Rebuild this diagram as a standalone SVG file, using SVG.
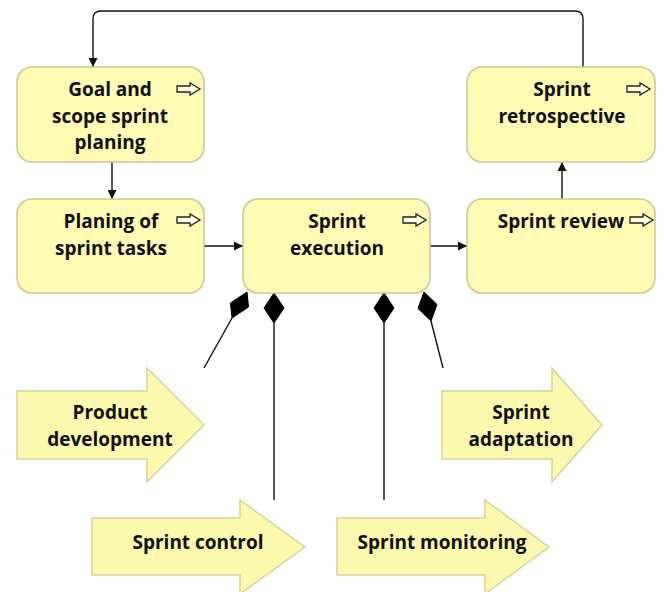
<svg xmlns="http://www.w3.org/2000/svg" width="664" height="592" viewBox="0 0 664 592">
  <style>
    .box { fill: #FFFAB4; stroke: #CCC78E; stroke-width: 1.5; }
    .proc { fill: #FCF8AE; stroke: #D6D29A; stroke-width: 1.5; }
    .lbl { font-family: "Open Sans", "Segoe UI", "Liberation Sans", sans-serif; font-weight: 700; font-size: 19px; fill: #111; text-anchor: middle; }
    .icon { fill: #FFFDE0; stroke: #222; stroke-width: 1.3; stroke-linejoin: miter; }
    .flow { fill: none; stroke: #111; stroke-width: 1.4; }
    .agg { fill: none; stroke: #111; stroke-width: 1.4; }
    .dia { fill: #000; stroke: #000; stroke-width: 1; }
  </style>
  <defs>
    <marker id="arrow" viewBox="0 0 10 10" refX="10" refY="5" markerWidth="10" markerHeight="9" markerUnits="userSpaceOnUse" orient="auto">
      <path d="M0,0 L10,5 L0,10 Z" fill="#111"/>
    </marker>
    <!-- small hollow arrow icon shown in the top-right of each process box -->
    <path id="ico" d="M0,3 H13 V0 L23,6 L13,12 V9 H0 Z"/>
  </defs>

  <!-- connectors -->
  <g id="connectors">
    <path class="flow" d="M583,162 V19 Q583,11 575,11 H101 Q93,11 93,19 V67" marker-end="url(#arrow)"/>
    <path class="flow" d="M112,162 V199" marker-end="url(#arrow)"/>
    <path class="flow" d="M204,246 H243" marker-end="url(#arrow)"/>
    <path class="flow" d="M430,246 H467" marker-end="url(#arrow)"/>
    <path class="flow" d="M562,199 V162" marker-end="url(#arrow)"/>

    <!-- aggregation links from Sprint execution to sub-processes -->
    <path class="agg" d="M232,318 L204,368"/>
    <polygon class="dia" points="247,292 248.5,307 232,318 230.5,303"/>
    <path class="agg" d="M274,323 V500"/>
    <polygon class="dia" points="274,293 284,308 274,323 264,308"/>
    <path class="agg" d="M384,323 V500"/>
    <polygon class="dia" points="384,293 394,308 384,323 374,308"/>
    <path class="agg" d="M431,321 L443,368"/>
    <polygon class="dia" points="424,292 437,304.5 431,321 418,308.5"/>
  </g>

  <!-- process boxes -->
  <g id="goal-scope">
    <rect class="box" x="17" y="67" width="187" height="95" rx="15"/>
    <use href="#ico" class="icon" x="177" y="83"/>
    <text class="lbl" x="110" y="96">Goal and</text>
    <text class="lbl" x="110" y="122.5">scope sprint</text>
    <text class="lbl" x="110" y="149">planing</text>
  </g>

  <g id="sprint-retrospective">
    <rect class="box" x="467" y="67" width="188" height="95" rx="15"/>
    <use href="#ico" class="icon" x="627" y="83"/>
    <text class="lbl" x="562" y="96">Sprint</text>
    <text class="lbl" x="562" y="122.5">retrospective</text>
  </g>

  <g id="planing-tasks">
    <rect class="box" x="17" y="199" width="187" height="94" rx="15"/>
    <use href="#ico" class="icon" x="177" y="214"/>
    <text class="lbl" x="111" y="228">Planing of</text>
    <text class="lbl" x="111" y="254.5">sprint tasks</text>
  </g>

  <g id="sprint-execution">
    <rect class="box" x="243" y="199" width="187" height="94" rx="15"/>
    <use href="#ico" class="icon" x="403" y="214"/>
    <text class="lbl" x="337" y="228">Sprint</text>
    <text class="lbl" x="337" y="254.5">execution</text>
  </g>

  <g id="sprint-review">
    <rect class="box" x="467" y="199" width="188" height="94" rx="15"/>
    <use href="#ico" class="icon" x="630" y="214"/>
    <text class="lbl" x="561" y="228">Sprint review</text>
  </g>

  <!-- sub-process arrows -->
  <g id="product-development">
    <path class="proc" d="M17,391 H147 V368 L204,425 L147,482 V459 H17 Z"/>
    <text class="lbl" x="110" y="419">Product</text>
    <text class="lbl" x="110" y="445.5">development</text>
  </g>

  <g id="sprint-adaptation">
    <path class="proc" d="M442,391 H552 V368 L602,425 L552,482 V459 H442 Z"/>
    <text class="lbl" x="521" y="419">Sprint</text>
    <text class="lbl" x="521" y="445.5">adaptation</text>
  </g>

  <g id="sprint-control">
    <path class="proc" d="M92,518 H240 V500 L305,547 L240,594 V575 H92 Z"/>
    <text class="lbl" x="198" y="549">Sprint control</text>
  </g>

  <g id="sprint-monitoring">
    <path class="proc" d="M337,518 H485 V500 L549,547 L485,594 V575 H337 Z"/>
    <text class="lbl" x="442" y="549">Sprint monitoring</text>
  </g>
</svg>
